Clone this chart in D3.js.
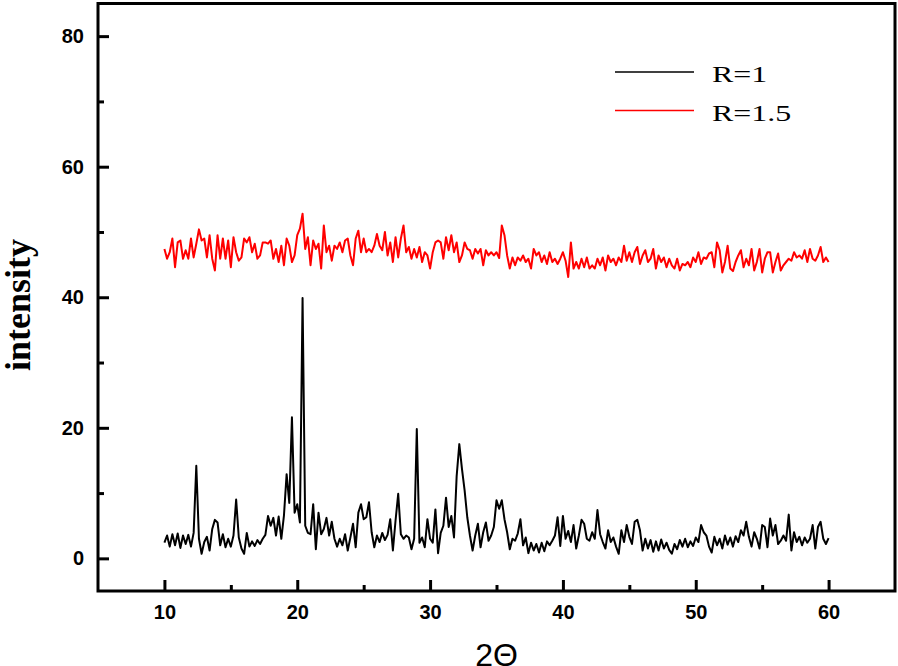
<!DOCTYPE html>
<html>
<head>
<meta charset="utf-8">
<script src="https://cdn.jsdelivr.net/npm/d3@7"></script>
<style>
  body { margin: 0; background: #fff; }
  svg { display: block; }
</style>
</head>
<body>
<svg id="chart"></svg>
<script>
// 2-theta grid, 0.2 deg step from 10 to 60
const twoTheta = d3.range(0, 251).map(i => 10 + i * 0.2);

// R=1 (black)
const r1Values = [
    2.4, 3.5, 1.8, 3.7, 2.0,   3.8, 1.6, 3.5, 2.2, 3.6,
    1.8, 3.9, 14.2, 3.0, 0.7,  2.5, 3.3, 1.2, 4.5, 5.9,
    5.5, 2.0, 3.7, 1.7, 3.0,   1.8, 3.5, 9.0, 3.2, 1.5,
    0.7, 3.9, 1.8, 2.6, 1.9,   2.8, 2.2, 3.0, 3.6, 6.5,
    5.0, 6.2, 3.5, 6.4, 3.0,   6.6, 12.9, 8.5, 21.6, 7.0,
    8.3, 5.5, 39.9, 5.0, 3.9,  3.7, 8.3, 1.4, 7.0, 3.7,
    4.5, 6.2, 3.5, 5.6, 3.0,   1.8, 3.0, 2.0, 3.7, 1.2,
    3.2, 5.3, 1.7, 7.0, 8.3,   6.0, 6.3, 8.6, 4.0, 1.7,
    3.5, 2.5, 3.9, 2.8, 3.6,   6.0, 1.2, 5.8, 9.9, 3.7,
    3.0, 3.5, 3.2, 1.4, 3.0,   19.8, 2.4, 3.2, 1.7, 6.0,
    3.0, 2.4, 7.5, 0.8, 3.9,   5.0, 9.3, 4.8, 6.5, 3.2,
    12.6, 17.5, 13.7, 10.4, 6.3, 3.5, 1.2, 3.5, 5.3, 1.7,
    4.0, 5.5, 2.7, 3.5, 4.8,   8.9, 7.6, 8.9, 6.0, 4.0,
    1.4, 3.0, 2.7, 3.8, 6.0,   2.0, 3.2, 0.8, 2.4, 1.2,
    2.2, 0.9, 2.4, 1.1, 2.6,   2.0, 2.7, 3.5, 6.3, 1.9,
    6.5, 3.0, 4.2, 2.5, 5.1,   1.5, 3.5, 5.9, 5.3, 3.0,
    2.7, 4.0, 3.0, 7.4, 3.7,   2.5, 1.5, 4.3, 2.5, 3.2,
    1.8, 0.7, 4.3, 2.5, 5.1,   3.3, 2.2, 5.6, 5.9, 4.3,
    1.2, 3.0, 1.5, 2.8, 1.0,   2.6, 1.2, 2.9, 1.5, 2.4,
    1.3, 0.7, 2.2, 1.4, 2.8,   1.8, 3.0, 1.7, 2.6, 1.9,
    3.2, 2.5, 5.1, 4.0, 3.5,   1.8, 0.9, 3.3, 2.0, 3.0,
    1.5, 3.5, 2.1, 3.2, 1.8,   3.4, 2.5, 4.3, 3.5, 5.6,
    3.3, 1.8, 4.0, 3.0, 1.5,   5.1, 4.8, 1.7, 6.1, 3.5,
    5.1, 2.2, 2.7, 3.5, 2.7,   6.7, 1.2, 4.0, 2.5, 3.3,
    2.0, 3.2, 2.4, 3.0, 5.1,   1.5, 4.8, 5.6, 3.0, 2.2,
    3.1
];

// R=1.5 (red)
const r15Values = [
    47.4, 45.9, 46.9, 49.0, 44.6,  48.4, 48.7, 45.9, 47.2, 45.9,
    49.0, 46.1, 48.2, 50.4, 48.7,  49.0, 46.1, 49.5, 45.9, 44.1,
    49.5, 45.9, 49.0, 45.9, 48.7,  44.6, 49.2, 46.9, 45.6, 46.1,
    49.0, 48.4, 49.2, 46.9, 48.2,  45.9, 46.4, 48.4, 48.4, 48.2,
    48.7, 45.9, 47.4, 45.4, 47.9,  44.9, 49.0, 47.9, 45.4, 46.4,
    49.5, 50.5, 52.8, 47.4, 49.2,  44.9, 48.7, 47.4, 48.2, 44.4,
    51.0, 46.9, 47.9, 45.6, 47.9,  47.4, 48.4, 46.9, 48.7, 49.0,
    46.4, 44.9, 49.0, 50.2, 46.9,  49.0, 46.9, 47.4, 46.9, 47.9,
    49.7, 47.9, 47.2, 50.0, 46.4,  48.4, 45.4, 49.2, 46.1, 49.0,
    51.0, 46.9, 47.7, 45.9, 47.4,  46.1, 47.7, 45.4, 46.9, 46.4,
    44.4, 46.9, 48.4, 48.7, 48.4,  45.9, 49.2, 47.2, 49.5, 46.9,
    48.4, 45.4, 46.4, 48.4, 47.4,  47.2, 45.9, 47.4, 46.7, 47.4,
    44.9, 47.2, 46.4, 46.9, 46.4,  46.9, 46.0, 51.0, 49.5, 46.4,
    44.4, 46.1, 44.9, 46.1, 45.6,  46.4, 45.4, 45.9, 44.4, 47.4,
    46.4, 46.9, 45.4, 46.4, 45.1,  46.9, 45.4, 45.9, 45.1, 45.9,
    46.9, 45.6, 43.1, 48.4, 44.4,  45.4, 44.4, 45.9, 44.6, 46.1,
    44.4, 44.9, 44.4, 45.9, 44.9,  46.1, 44.1, 46.4, 45.4, 45.9,
    44.9, 46.1, 45.4, 47.9, 45.6,  46.9, 45.4, 46.9, 47.7, 45.1,
    46.4, 47.2, 45.4, 45.9, 47.4,  44.4, 46.4, 45.4, 46.1, 44.6,
    45.9, 44.9, 44.4, 45.9, 44.1,  45.1, 44.9, 45.4, 44.6, 46.1,
    45.4, 46.9, 45.1, 46.1, 45.9,  46.7, 46.9, 44.6, 48.4, 47.2,
    43.8, 45.4, 47.9, 44.4, 44.0,  45.4, 46.4, 47.2, 44.6, 45.9,
    44.9, 47.4, 44.1, 45.4, 47.4,  43.8, 45.9, 46.9, 46.9, 43.8,
    45.4, 46.7, 44.1, 44.9, 45.4,  45.9, 45.6, 46.9, 46.1, 46.4,
    45.9, 47.2, 45.4, 47.4, 45.9,  45.6, 46.4, 47.7, 45.4, 46.1,
    45.4
];

const seriesNames = ['R=1', 'R=1.5'];
const seriesColors = ['#000000', '#ff0000'];
const xTicks = [10, 20, 30, 40, 50, 60];
const xMinorTicks = [15, 25, 35, 45, 55];
const yTicks = [0, 20, 40, 60, 80];
const yMinorTicks = [10, 30, 50, 70];

const WIDTH = 898;
const HEIGHT = 666;
const MARGINS = {left: 98, right: 3, top: 3.5, bottom: 75};

const x = d3.scaleLinear().domain([5, 65]).range([MARGINS.left, WIDTH - MARGINS.right]);
const y = d3.scaleLinear().domain([-5, 85]).range([HEIGHT - MARGINS.bottom, MARGINS.top]);

const svg = d3.select('#chart')
    .attr('width', WIDTH)
    .attr('height', HEIGHT);

const series = [
    {name: seriesNames[0], color: seriesColors[0], values: r1Values},
    {name: seriesNames[1], color: seriesColors[1], values: r15Values}
];

const line = d3.line()
    .x((d, i) => x(twoTheta[i]))
    .y(d => y(d));

svg.append('g')
    .selectAll('path')
    .data(series)
    .enter()
    .append('path')
    .attr('d', d => line(d.values))
    .attr('fill', 'none')
    .attr('stroke', d => d.color)
    .attr('stroke-width', 2)
    .attr('stroke-linejoin', 'round');

// axes, ticks pointing inward
const tickFont = (g) => g.selectAll('text')
    .attr('font-family', '"Liberation Sans", Arial, sans-serif')
    .attr('font-weight', 'bold')
    .attr('font-size', 20)
    .attr('fill', '#000');

const xAxis = svg.append('g')
    .attr('transform', `translate(0, ${y(-5)})`)
    .call(d3.axisBottom(x).tickValues(xTicks).tickSizeInner(-11).tickSizeOuter(0).tickPadding(14));
xAxis.select('.domain').remove();
xAxis.selectAll('line').attr('stroke', '#000').attr('stroke-width', 3);
tickFont(xAxis);

const xMinor = svg.append('g')
    .attr('transform', `translate(0, ${y(-5)})`)
    .call(d3.axisBottom(x).tickValues(xMinorTicks).tickSizeInner(-6).tickSizeOuter(0).tickFormat(''));
xMinor.select('.domain').remove();
xMinor.selectAll('line').attr('stroke', '#000').attr('stroke-width', 3);

const yAxis = svg.append('g')
    .attr('transform', `translate(${x(5)}, 0)`)
    .call(d3.axisLeft(y).tickValues(yTicks).tickSizeInner(-11).tickSizeOuter(0).tickPadding(14));
yAxis.select('.domain').remove();
yAxis.selectAll('line').attr('stroke', '#000').attr('stroke-width', 3);
tickFont(yAxis);

const yMinor = svg.append('g')
    .attr('transform', `translate(${x(5)}, 0)`)
    .call(d3.axisLeft(y).tickValues(yMinorTicks).tickSizeInner(-6).tickSizeOuter(0).tickFormat(''));
yMinor.select('.domain').remove();
yMinor.selectAll('line').attr('stroke', '#000').attr('stroke-width', 3);

// frame
svg.append('rect')
    .attr('x', x(5))
    .attr('y', y(85))
    .attr('width', x(65) - x(5))
    .attr('height', y(-5) - y(85))
    .attr('fill', 'none')
    .attr('stroke', '#000')
    .attr('stroke-width', 3);

// axis titles
svg.append('text')
    .attr('x', (x(5) + x(65)) / 2)
    .attr('y', 666)
    .attr('text-anchor', 'middle')
    .attr('font-family', '"Liberation Sans", Arial, sans-serif')
    .attr('font-size', 32)
    .text('2\u0398');

svg.append('text')
    .attr('transform', 'translate(30, 305) rotate(-90)')
    .attr('text-anchor', 'middle')
    .attr('font-family', '"Liberation Serif", "Times New Roman", serif')
    .attr('font-weight', 'bold')
    .attr('font-size', 36)
    .text('intensity');

// legend
const legend = svg.append('g')
    .selectAll('g')
    .data(series)
    .enter()
    .append('g')
    .attr('transform', (d, i) => `translate(615, ${72 + i * 38.5})`);

legend.append('line')
    .attr('x1', 0)
    .attr('x2', 79)
    .attr('stroke', d => d.color)
    .attr('stroke-width', 1.5);

legend.append('text')
    .attr('transform', 'translate(97, 10) scale(1.33, 1)')
    .attr('font-family', '"Liberation Serif", "Times New Roman", serif')
    .attr('font-size', 24)
    .attr('fill', '#000')
    .text(d => d.name);
</script>
</body>
</html>
